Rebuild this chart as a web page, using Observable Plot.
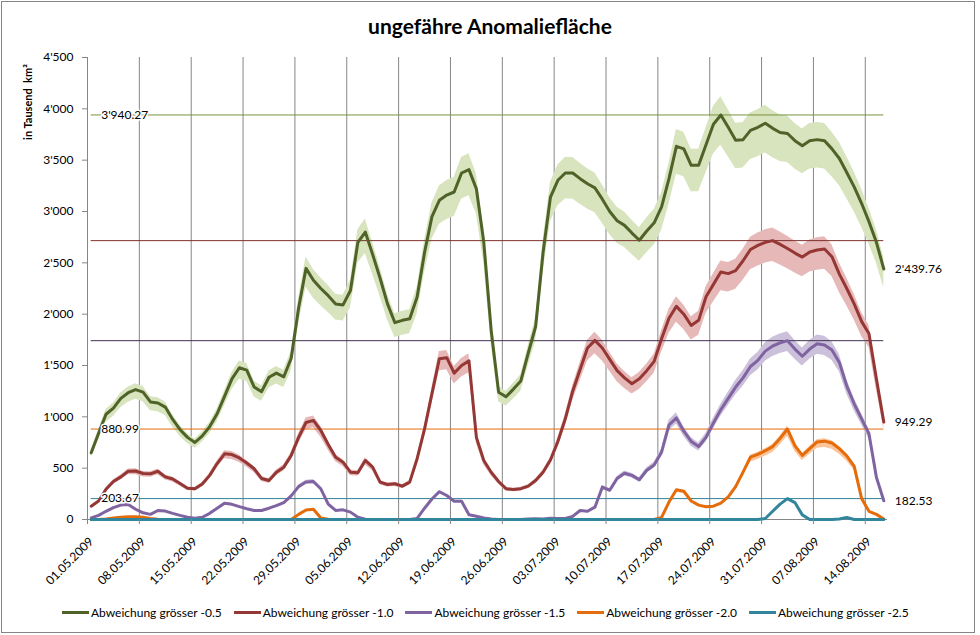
<!DOCTYPE html>
<html><head><meta charset="utf-8">
<script src="https://cdn.jsdelivr.net/npm/d3@7"></script>
<script src="https://cdn.jsdelivr.net/npm/@observablehq/plot@0.6"></script>
<style>
body{margin:0;background:#fff;}
#chart{position:relative;width:980px;height:635px;font-family:Lato,sans-serif;color:#000;overflow:hidden;}
#frame{position:absolute;left:1px;top:1px;width:974px;height:632px;border:1px solid #868686;box-sizing:border-box;}
#title{position:absolute;top:13px;left:0;width:980px;text-align:center;font-weight:bold;font-size:21px;}
#ylab{position:absolute;left:27px;top:102px;transform:translate(-50%,-50%) rotate(-90deg);font-weight:bold;font-size:11px;white-space:nowrap;}
#plot{position:absolute;left:0;top:0;}
#legend{position:absolute;top:605px;left:62px;display:flex;gap:12px;font-size:12px;align-items:center;white-space:nowrap;}
.item{display:flex;align-items:center;}
.sw{display:inline-block;width:27px;height:3px;margin-right:2px;}
</style></head>
<body>
<div id="chart">
  <div id="frame"></div>
  <div id="plot"></div>
  <div id="title">ungefähre Anomaliefläche</div>
  <div id="ylab">in Tausend&nbsp; km²</div>
  <div id="legend"></div>
</div>
<script>
// ---- data (thousand km², daily from 01.05.2009) ----
const startDay = "01.05.2009";
const endDay = "17.08.2009";
const tickLabels = ["01.05.2009","08.05.2009","15.05.2009","22.05.2009","29.05.2009","05.06.2009","12.06.2009","19.06.2009","26.06.2009","03.07.2009","10.07.2009","17.07.2009","24.07.2009","31.07.2009","07.08.2009","14.08.2009"];
const yTicks = [0,500,1000,1500,2000,2500,3000,3500,4000,4500];
const seriesNames = ["Abweichung grösser -0.5","Abweichung grösser -1.0","Abweichung grösser -1.5","Abweichung grösser -2.0","Abweichung grösser -2.5"];

const green = [650,840,1025,1085,1180,1235,1265,1240,1145,1135,1095,975,875,800,750,815,905,1030,1200,1370,1478,1455,1290,1245,1385,1426,1390,1570,2060,2446,2330,2250,2180,2100,2090,2230,2700,2800,2580,2350,2100,1917,1940,1956,2167,2600,2950,3109,3160,3190,3375,3408,3220,2700,1840,1240,1195,1270,1350,1620,1880,2600,3140,3304,3375,3375,3320,3270,3230,3120,3000,2910,2865,2790,2720,2810,2890,3044,3320,3635,3610,3450,3450,3650,3850,3940.27,3820,3694,3700,3790,3820,3860,3810,3770,3760,3690,3640,3690,3700,3690,3610,3516,3380,3240,3080,2900,2700,2439.76];
const red = [130,180,295,370,415,470,472,448,445,470,415,395,350,305,299,345,430,545,640,633,600,550,494,400,380,461,510,624,800,945,965,867,730,607,558,461,455,575,510,364,341,348,325,364,592,880,1225,1566,1576,1426,1500,1545,800,575,460,370,300,292,300,325,380,460,580,760,980,1250,1460,1670,1745,1670,1560,1450,1380,1322,1370,1450,1540,1760,1960,2076,2000,1890,1940,2170,2290,2410,2395,2425,2520,2630,2670,2700,2716.3,2680,2640,2595,2556,2605,2625,2635,2560,2390,2250,2100,1930,1810,1370,949.29];
const purple = [16,40,80,115,140,146,100,65,50,88,82,60,40,22,12,22,60,110,159,148,125,105,88,88,110,135,165,230,320,365,370,299,150,88,94,72,22,3,0,0,0,0,0,0,10,110,200,270,234,178,178,46,32,15,5,0,0,0,0,5,8,5,12,10,10,30,88,80,120,315,285,400,450,430,387,480,530,656,920,990,860,760,710,800,940,1070,1180,1290,1380,1490,1550,1640,1690,1720,1741.7,1660,1590,1660,1712,1700,1650,1530,1300,1127,981,835,412,182.53];
const orange = [0,0,5,15,22,28,28,22,10,3,0,0,0,0,0,0,0,0,0,0,0,0,0,0,0,0,0,0,50,92,100,15,3,0,0,0,0,0,0,0,0,0,0,0,0,0,0,0,0,0,0,0,0,0,0,0,0,0,0,0,0,0,0,0,0,0,0,0,0,0,0,0,0,0,0,0,0,20,170,289,275,180,140,125,130,160,220,320,461,607,635,670,710,790,880.99,720,624,690,755,763,745,690,620,520,205,80,50,5];
const teal = [0,0,0,0,0,0,0,0,0,0,0,0,0,0,0,0,0,0,0,0,0,0,0,0,0,0,0,0,0,0,0,0,0,0,0,0,0,0,0,0,0,0,0,0,0,0,0,0,0,0,0,0,0,0,0,0,0,0,0,0,0,0,0,0,0,0,0,0,0,0,0,0,0,0,0,0,0,0,0,0,0,0,0,0,0,0,0,0,0,0,0,10,80,150,203.67,165,45,0,0,0,0,5,20,0,0,0,0,0];

// band extent relative to value (upper, lower), read from shaded areas
const bandUpper = [1.045,1.045,1.05,1.03,1.02];
const bandLower = [0.925,0.925,0.94,0.92,0.95];
const lineColors = ["#4F6228","#953735","#8064A2","#E46C0A","#31859C"];
const bandColors = ["#D7E4BD","#E6B9B8","#CCC1DA","#FBC49A","#B7DEE8"];
const refColors  = ["#77933C","#7F2F2D","#403152","#E46C0A","#31859C"];
const showMaxLabel = [true,false,false,true,true];
const showLastLabel = [true,true,true,false,false];

// ---- build ----
const parse = d3.utcParse("%d.%m.%Y");
const fmtDate = d3.utcFormat("%d.%m.%Y");
const start = parse(startDay), end = parse(endDay);
const tickDates = tickLabels.map(parse);
const num = v => d3.format(",.2f")(v).replace(/,/g,"'");
const intFmt = v => d3.format(",")(v).replace(/,/g,"'");
const allValues = [green, red, purple, orange, teal];
const series = allValues.map((vals,i)=>{
  const rows = vals.map((v,d)=>({x:new Date(+start + (d+0.5)*864e5), y:v, lo:v*bandLower[i], hi:v*bandUpper[i]}));
  return {name:seriesNames[i], rows, max:d3.max(vals), last:vals[vals.length-1],
    firstX:rows[0].x, lastX:rows[rows.length-1].x, i};
});

const marks = [
  Plot.ruleX(tickDates, {stroke:"#868686", strokeWidth:1}),
  Plot.ruleX([start], {stroke:"#868686"}),
  Plot.ruleY([0], {stroke:"#868686"})
];
series.forEach(s=>marks.push(Plot.areaY(s.rows,{x:"x", y1:"lo", y2:"hi", fill:bandColors[s.i]})));
series.forEach(s=>marks.push(Plot.ruleY([s],{y:"max", x1:d=>d.firstX, x2:d=>d.lastX, stroke:refColors[s.i], strokeWidth:1})));
series.forEach(s=>marks.push(Plot.line(s.rows,{x:"x", y:"y", stroke:lineColors[s.i], strokeWidth:3, strokeLinejoin:"round", strokeLinecap:"round"})));
series.filter(s=>showMaxLabel[s.i]).forEach(s=>marks.push(Plot.text([s],{x:d=>d.firstX, y:d=>d.max, text:d=>num(d.max), dx:10, textAnchor:"start", fill:"#000", stroke:"white", strokeWidth:3, fontSize:12})));
series.filter(s=>showLastLabel[s.i]).forEach(s=>marks.push(Plot.text([s],{x:d=>d.lastX, y:d=>d.last, text:d=>num(d.last), dx:11, textAnchor:"start", fill:"#000", fontSize:12})));
marks.push(Plot.axisX(tickDates,{tickFormat:()=>"", tickSize:5, stroke:"#868686", label:null}));
marks.push(Plot.text(tickDates,{x:d=>d, y:()=>0, text:d=>fmtDate(d), rotate:-45, textAnchor:"end", lineAnchor:"middle", dx:4, dy:20, fill:"#000", fontSize:12}));
marks.push(Plot.axisY(yTicks,{tickFormat:intFmt, tickSize:5, tickPadding:9, stroke:"#868686", fill:"#000", label:null, fontSize:12}));

const chart = Plot.plot({
  width:980, height:595,
  marginLeft:87, marginRight:93, marginTop:57, marginBottom:76,
  x:{type:"utc", domain:[start,end]},
  y:{domain:[0,4500]},
  style:{fontFamily:"Lato, sans-serif", fontSize:"12px", background:"transparent", overflow:"visible", color:"#000"},
  marks
});
document.getElementById("plot").appendChild(chart);

const leg = document.getElementById("legend");
seriesNames.forEach((n,i)=>{
  const it = document.createElement("div"); it.className="item";
  const sw = document.createElement("span"); sw.className="sw"; sw.style.background=lineColors[i];
  const t = document.createElement("span"); t.textContent=n;
  it.appendChild(sw); it.appendChild(t); leg.appendChild(it);
});
</script>
</body></html>
